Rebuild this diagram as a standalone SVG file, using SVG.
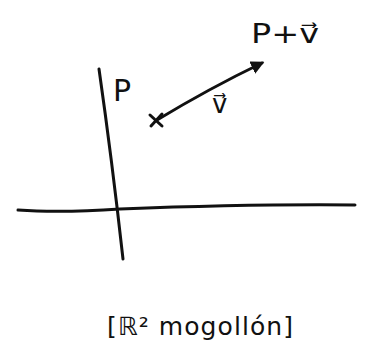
<svg xmlns="http://www.w3.org/2000/svg" width="366" height="360" viewBox="0 0 366 360">
<defs>
<style>
.ln{fill:none;stroke:#111;stroke-width:3;stroke-linecap:round;stroke-linejoin:round}
.t{font-family:"DejaVu Sans","Liberation Sans",sans-serif;fill:#111}
</style>
<marker id="ah" viewBox="0 0 10 10" refX="8" refY="5" markerWidth="4.5" markerHeight="4.5" orient="auto">
<path d="M0,0 L10,5 L0,10 z" fill="#111"/>
</marker>
</defs>
<rect width="366" height="360" fill="#fff"/>
<g id="axes">
<path class="ln" d="M99,69 Q112,160 123,259"/>
<path class="ln" d="M18,210 Q60,213 120,209 Q250,204 355,205"/>
</g>
<g id="point-P">
<path class="ln" d="M150,115 L162,126 M151,126 L162,114"/>
<text class="t" x="113" y="101" font-size="30">P</text>
</g>
<g id="connectors">
<path class="ln" d="M157,120 Q210,88 262,63" marker-end="url(#ah)"/>
</g>
<g id="label-v">
<text class="t" x="212" y="113" font-size="26">v⃗</text>
</g>
<g id="point-Pv">
<text class="t" x="251" y="43" font-size="27" textLength="68" lengthAdjust="spacingAndGlyphs">P+v⃗</text>
</g>
<g id="caption">
<text class="t" x="107" y="335" font-size="25" textLength="186" lengthAdjust="spacing">[ℝ² mogollón]</text>
</g>
</svg>
